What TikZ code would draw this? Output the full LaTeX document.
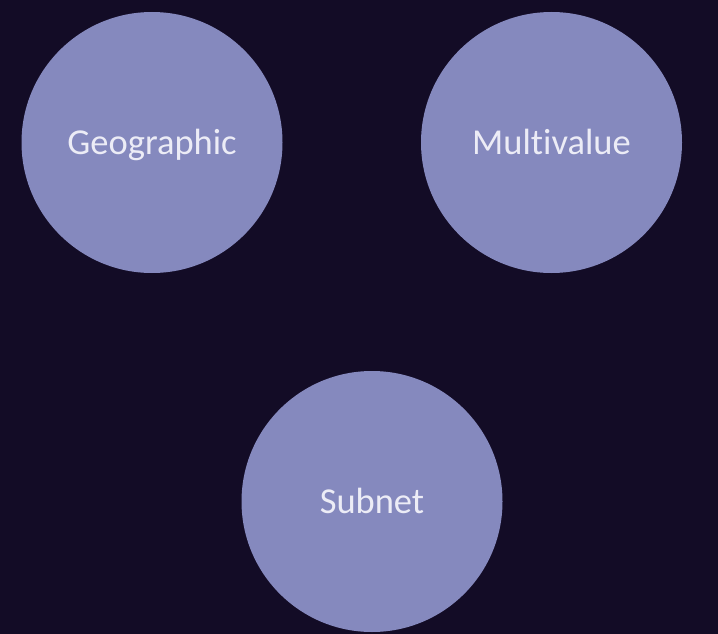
\documentclass[tikz,border=0pt]{standalone}
\usepackage{fontspec}
\setmainfont[Ligatures={NoCommon}]{Carlito}
\definecolor{bg}{HTML}{130C26}
\definecolor{disc}{HTML}{8589BE}
\definecolor{txt}{HTML}{ECECF6}
\begin{document}
\begin{tikzpicture}[x=1pt,y=-1pt,
  disk/.style={circle,fill=disc,draw=none,minimum size=261pt,inner sep=0pt,
    text=txt,font=\fontsize{36.5}{40}\selectfont,text height=23.4pt,text depth=0pt}]
\fill[bg] (0,0) rectangle (718,634);
\useasboundingbox (0,0) rectangle (718,634);
\node[disk] (geo) at (152,142.5) {Geographic};
\node[disk] (multi) at (551.5,142.5) {Multivalue};
\node[disk] (sub) at (372,501.5) {Subnet};
\end{tikzpicture}
\end{document}
